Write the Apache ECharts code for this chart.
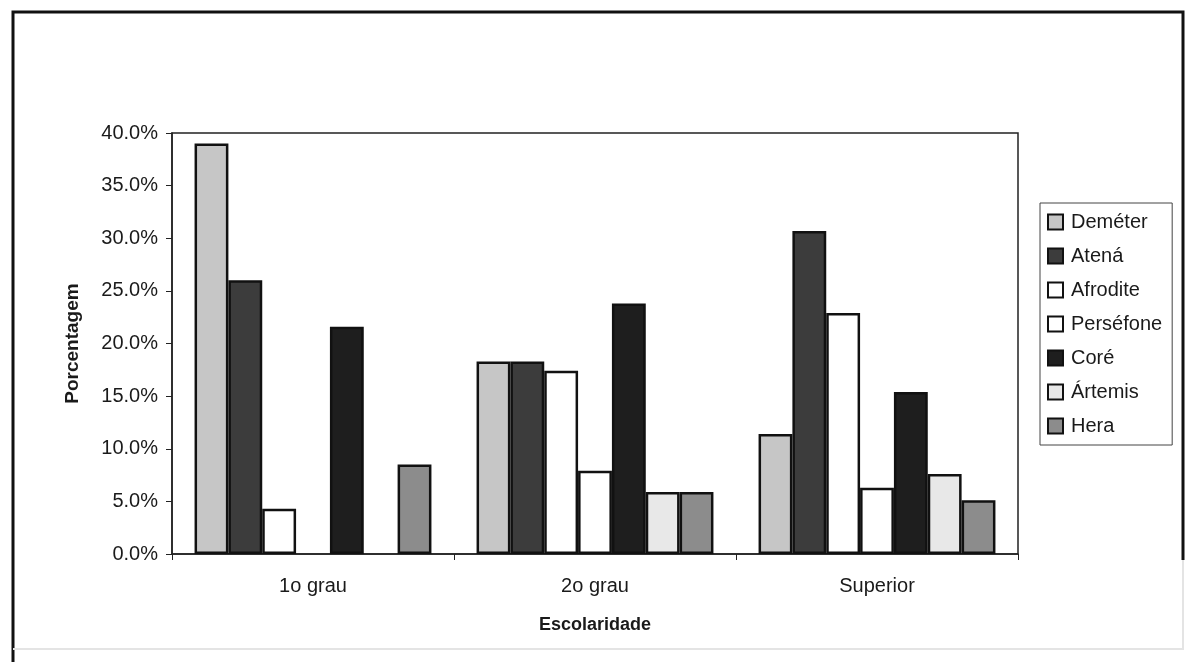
<!DOCTYPE html>
<html>
<head>
<meta charset="utf-8">
<script src="https://cdn.jsdelivr.net/npm/echarts@6/dist/echarts.min.js"></script>
<style>
  html, body { margin: 0; padding: 0; background: #fff; }
  #chart { width: 1191px; height: 672px; }
</style>
</head>
<body>
<div id="chart"></div>
<script>
// categories and series values (percent)
const categories = ['1o grau', '2o grau', 'Superior']
const seriesNames = ['Deméter', 'Atená', 'Afrodite', 'Perséfone', 'Coré', 'Ártemis', 'Hera']
const demeter = [39.0, 18.3, 11.4]
const atena = [26.0, 18.3, 30.7]
const afrodite = [4.3, 17.4, 22.9]
const persefone = [0, 7.9, 6.3]
const core = [21.6, 23.8, 15.4]
const artemis = [0, 5.9, 7.6]
const hera = [8.5, 5.9, 5.1]
const yTicks = [0, 5, 10, 15, 20, 25, 30, 35, 40]

const seriesData = [demeter, atena, afrodite, persefone, core, artemis, hera]
const fills = ['#c6c6c6', '#3c3c3c', '#ffffff', '#ffffff', '#1e1e1e', '#e8e8e8', '#8c8c8c']

const font = 'Liberation Sans, Arial, sans-serif'
const chart = echarts.init(document.getElementById('chart'))

const option = {
  backgroundColor: '#fff',
  animation: false,
  textStyle: { fontFamily: font, color: '#1a1a1a' },
  // outer frame of the scanned page: strong on top/left, faded lower right
  graphic: [
    {
      type: 'polyline',
      shape: { points: [[13, 662], [13, 12], [1183, 12], [1183, 560]] },
      style: { fill: 'none', stroke: '#111', lineWidth: 3 },
      silent: true
    },
    {
      type: 'polyline',
      shape: { points: [[1183, 560], [1183, 649], [13, 649]] },
      style: { fill: 'none', stroke: '#e4e4e4', lineWidth: 2 },
      silent: true
    }
  ],
  grid: {
    left: 172,
    right: 173,
    top: 133,
    bottom: 118,
    show: true,
    borderColor: '#222',
    borderWidth: 1.5
  },
  legend: {
    orient: 'vertical',
    left: 1040,
    top: 203,
    width: 132,
    padding: [9, 10, 9, 7],
    itemWidth: 15,
    itemHeight: 15,
    itemGap: 14,
    borderColor: '#444',
    borderWidth: 1,
    textStyle: { fontSize: 20, lineHeight: 20, fontFamily: font, color: '#1a1a1a', padding: [0, 0, 0, 3] },
    data: seriesNames.map(n => ({ name: n, icon: 'rect' }))
  },
  xAxis: {
    type: 'category',
    data: categories,
    name: 'Escolaridade',
    nameLocation: 'middle',
    nameGap: 62,
    nameTextStyle: { fontSize: 18, fontWeight: 'bold', fontFamily: font, color: '#1a1a1a' },
    axisLine: { lineStyle: { color: '#222', width: 1.5 } },
    axisTick: { show: true, alignWithLabel: false, length: 6, lineStyle: { color: '#222' } },
    axisLabel: { fontSize: 20, margin: 22, color: '#1a1a1a' }
  },
  yAxis: {
    type: 'value',
    min: yTicks[0],
    max: yTicks[yTicks.length - 1],
    interval: 5,
    name: 'Porcentagem',
    nameLocation: 'middle',
    nameGap: 90,
    nameTextStyle: { fontSize: 19, fontWeight: 'bold', fontFamily: font, color: '#1a1a1a' },
    axisLine: { show: true, lineStyle: { color: '#222', width: 1.5 } },
    axisTick: { show: true, inside: false, length: 6, lineStyle: { color: '#222' } },
    splitLine: { show: false },
    axisLabel: {
      fontSize: 20,
      margin: 14,
      color: '#1a1a1a',
      formatter: v => v.toFixed(1) + '%'
    }
  },
  series: seriesNames.map((name, i) => ({
    name: name,
    type: 'bar',
    // a zero value leaves an empty slot, as in the original
    data: seriesData[i].map(v => (v === 0 ? '-' : v)),
    barGap: '0%',
    barCategoryGap: '16%',
    itemStyle: {
      color: fills[i],
      borderColor: '#111',
      borderWidth: 2.5
    }
  }))
}

chart.setOption(option)
</script>
</body>
</html>
